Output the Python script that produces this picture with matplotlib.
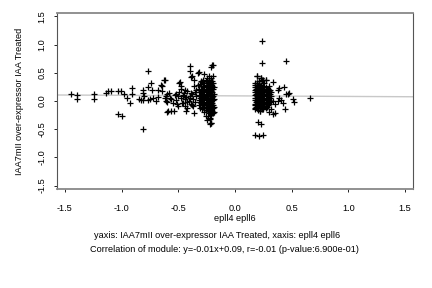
import matplotlib

matplotlib.use("Agg")
import matplotlib.pyplot as plt
import numpy as np

plt.rcParams["font.family"] = ["Liberation Sans", "DejaVu Sans"]

# sparse points, left side
left_sparse_x = [-1.45, -1.39, -1.39, -1.24, -1.24, -1.14, -1.12, -1.09, -1.03, -1.01,
                 -0.98, -0.95, -0.925, -0.91, -0.91, -1.03, -1.00, -0.845, -0.83, -0.815,
                 -0.81, -0.80, -0.81, -0.77, -0.77, -0.77, -0.74, -0.75, -0.73, -0.72,
                 -0.70, -0.68, -0.675, -0.65, -0.63, -0.64, -0.62, -0.61, -0.60, -0.60, -0.815]
left_sparse_y = [0.115, 0.10, 0.03, 0.13, 0.03, 0.145, 0.18, 0.17, 0.185, 0.185,
                 0.13, 0.06, -0.03, 0.23, 0.115, -0.24, -0.275, 0.04, 0.015, 0.20,
                 0.145, 0.085, 0.01, 0.53, 0.245, 0.01, 0.32, 0.04, 0.19, 0.055,
                 0.0, 0.20, 0.075, 0.29, 0.38, 0.175, 0.055, 0.0, 0.115, -0.19, -0.505]

# middle band, -0.65 .. -0.33
left_mid_x = [-0.58, -0.61, -0.60, -0.565, -0.55, -0.595, -0.565, -0.54, -0.505, -0.46,
              -0.43, -0.42, -0.37, -0.36, -0.45, -0.42, -0.36, -0.345, -0.33, -0.30,
              -0.49, -0.475, -0.485, -0.475, -0.62, -0.64, -0.44, -0.40, -0.40, -0.38,
              -0.39, -0.365, -0.57, -0.53, -0.52, -0.50, -0.48, -0.47, -0.455, -0.44,
              -0.43, -0.41, -0.40, -0.39, -0.38, -0.37, -0.355, -0.35, -0.34, -0.52,
              -0.51, -0.49, -0.46, -0.44, -0.42, -0.395, -0.385, -0.375,
              -0.33, -0.27, -0.23, -0.205, -0.21, -0.32, -0.195]
left_mid_y = [0.145, 0.085, -0.015, 0.04, -0.03, -0.18, -0.18, -0.18, -0.09, -0.03,
              -0.18, -0.13, -0.09, -0.21, 0.145, 0.175, 0.26, 0.20, 0.29, 0.35,
              0.32, 0.215, 0.34, 0.26, 0.38, 0.26, -0.09, 0.62, 0.53, 0.44,
              0.43, 0.38, 0.06, 0.10, 0.02, 0.08, 0.05, -0.04, 0.11, 0.03,
              0.07, 0.00, 0.09, -0.05, 0.12, 0.04, 0.15, -0.02, 0.08, 0.13,
              -0.06, 0.16, 0.09, 0.19, -0.01, 0.06, 0.14, -0.07,
              0.50, 0.48, 0.45, 0.63, 0.60, 0.51, 0.635]

# dense cluster near x = -0.25
left_dense_x = [-0.32, -0.32, -0.32, -0.32,
                -0.31, -0.31, -0.31, -0.31, -0.31,
                -0.30, -0.30, -0.30, -0.30,
                -0.29, -0.29, -0.29, -0.29, -0.29, -0.29,
                -0.28, -0.28, -0.28, -0.28, -0.28, -0.28,
                -0.27, -0.27, -0.27, -0.27, -0.27, -0.27, -0.27,
                -0.26, -0.26, -0.26, -0.26, -0.26, -0.26, -0.26,
                -0.25, -0.25, -0.25, -0.25, -0.25, -0.25, -0.25,
                -0.24, -0.24, -0.24, -0.24, -0.24, -0.24, -0.24, -0.24,
                -0.23, -0.23, -0.23, -0.23, -0.23, -0.23, -0.23, -0.23,
                -0.22, -0.22, -0.22, -0.22, -0.22, -0.22, -0.22, -0.22,
                -0.21, -0.21, -0.21, -0.21, -0.21, -0.21, -0.21, -0.21, -0.21,
                -0.20, -0.20, -0.20, -0.20, -0.20, -0.20, -0.20, -0.20,
                -0.19, -0.19, -0.19, -0.19, -0.19, -0.19, -0.19, -0.19,
                -0.185, -0.185, -0.185, -0.185, -0.185,
                -0.255, -0.225, -0.245, -0.215, -0.225]
left_dense_y = [0.22, 0.10, 0.02, -0.08,
                0.30, 0.15, 0.05, -0.02, -0.12,
                0.18, 0.08, -0.04, 0.26,
                0.33, 0.21, 0.12, 0.03, -0.06, -0.14,
                0.27, 0.16, 0.07, -0.01, -0.10, 0.38,
                0.31, 0.22, 0.13, 0.05, -0.03, -0.12, -0.19,
                0.35, 0.24, 0.17, 0.09, 0.01, -0.07, -0.16,
                0.29, 0.20, 0.11, 0.04, -0.05, -0.11, 0.40,
                0.34, 0.25, 0.15, 0.08, -0.02, -0.09, -0.18, -0.27,
                0.30, 0.19, 0.12, 0.02, -0.06, -0.14, 0.37, -0.22,
                0.33, 0.23, 0.14, 0.06, -0.03, -0.12, -0.20, -0.30,
                0.28, 0.18, 0.10, 0.00, -0.08, -0.15, 0.41, -0.385, -0.25,
                0.36, 0.26, 0.16, 0.07, -0.04, -0.11, -0.21, -0.17,
                0.31, 0.21, 0.09, 0.01, -0.07, -0.13, 0.44, -0.21,
                0.24, 0.12, 0.03, -0.10, -0.19,
                -0.27, -0.315, -0.33, -0.385, -0.40]

# dense cluster near x = 0.23
right_dense_x = [0.175, 0.175, 0.175, 0.175, 0.175, 0.175,
                 0.18, 0.18, 0.18, 0.18, 0.18, 0.18,
                 0.185, 0.185, 0.185, 0.185, 0.185,
                 0.19, 0.19, 0.19, 0.19, 0.19, 0.19, 0.19, 0.19,
                 0.20, 0.20, 0.20, 0.20, 0.20, 0.20, 0.20,
                 0.21, 0.21, 0.21, 0.21, 0.21, 0.21, 0.21,
                 0.22, 0.22, 0.22, 0.22, 0.22, 0.22, 0.22,
                 0.23, 0.23, 0.23, 0.23, 0.23, 0.23, 0.23,
                 0.24, 0.24, 0.24, 0.24, 0.24, 0.24, 0.24,
                 0.25, 0.25, 0.25, 0.25, 0.25, 0.25,
                 0.26, 0.26, 0.26, 0.26, 0.26, 0.26,
                 0.27, 0.27, 0.27, 0.27, 0.27, 0.27, 0.27,
                 0.28, 0.28, 0.28, 0.28, 0.28,
                 0.29, 0.29, 0.29, 0.29, 0.29,
                 0.30, 0.30, 0.30, 0.30, 0.30,
                 0.31, 0.31, 0.31, 0.31,
                 0.32, 0.32, 0.32]
right_dense_y = [0.25, 0.15, 0.05, -0.05, -0.12, 0.31,
                 0.28, 0.20, 0.10, 0.02, -0.08, -0.14,
                 0.22, 0.13, 0.06, -0.02, -0.10,
                 0.32, 0.24, 0.17, 0.08, 0.00, -0.06, -0.13, 0.44,
                 0.27, 0.19, 0.11, 0.04, -0.04, -0.11, -0.16,
                 0.30, 0.21, 0.14, 0.07, -0.01, -0.09, 0.35,
                 0.25, 0.16, 0.09, 0.02, -0.06, -0.13, -0.18,
                 0.29, 0.20, 0.12, 0.05, -0.03, -0.10, 0.41,
                 0.23, 0.15, 0.08, 0.00, -0.07, -0.15, 0.38,
                 0.27, 0.18, 0.10, 0.03, -0.05, -0.12,
                 0.21, 0.13, 0.06, -0.02, -0.09, 0.31,
                 0.24, 0.16, 0.08, 0.01, -0.06, -0.13, 0.37,
                 0.19, 0.11, 0.04, -0.03, -0.10,
                 0.22, 0.14, 0.06, -0.01, -0.08,
                 0.17, 0.09, 0.02, -0.05, 0.26,
                 0.12, 0.05, -0.02, 0.20,
                 0.08, 0.15, 0.00]

# sparse points, right side
right_sparse_x = [0.237, 0.237, 0.45, 0.19, 0.23, 0.246, 0.276, 0.335, 0.19, 0.21,
                  0.39, 0.38, 0.43, 0.48, 0.47, 0.45, 0.51, 0.52, 0.66, 0.39,
                  0.41, 0.38, 0.42, 0.44, 0.335, 0.35, 0.315, 0.30, 0.335, 0.35,
                  0.246, 0.217, 0.20, 0.23, 0.18, 0.21, 0.246]
right_sparse_y = [1.07, 0.68, 0.70, 0.44, 0.41, 0.38, 0.37, 0.33, 0.32, 0.35,
                  0.23, 0.20, 0.25, 0.145, 0.13, 0.115, 0.027, -0.015, 0.044, 0.055,
                  0.015, -0.003, -0.045, -0.15, 0.0, -0.06, -0.15, -0.20, -0.24, -0.22,
                  -0.15, -0.18, -0.375, -0.415, -0.61, -0.62, -0.61]

slope, intercept = -0.01, 0.09
xlim = (-1.57, 1.57)
ylim = (-1.56, 1.56)
ticks = [-1.5, -1.0, -0.5, 0.0, 0.5, 1.0, 1.5]

xs = np.concatenate([left_sparse_x, left_mid_x, left_dense_x, right_dense_x, right_sparse_x])
ys = np.concatenate([left_sparse_y, left_mid_y, left_dense_y, right_dense_y, right_sparse_y])

fig = plt.figure(figsize=(4.32, 2.88), dpi=100)
ax = fig.add_axes([0.132, 0.344, 0.824, 0.611])

lx = np.array(xlim)
ax.plot(lx, slope * lx + intercept, color="#c8c8c8", lw=1.0, zorder=1)
ax.plot(xs, ys, "+", color="black", ms=4.0, mew=0.9, zorder=2)

ax.set_xlim(*xlim)
ax.set_ylim(*ylim)
ax.set_xticks(ticks)
ax.set_yticks(ticks)
ax.set_xticklabels([f"{t:.1f}" for t in ticks])
ax.set_yticklabels([f"{t:.1f}" for t in ticks], rotation=90, va="center")
ax.tick_params(labelsize=6.6, length=2.5, width=0.6)
ax.tick_params(axis="x", pad=8)
ax.tick_params(axis="y", pad=5)
for side in ("left", "right"):
    ax.spines[side].set_color("#555555")
    ax.spines[side].set_linewidth(0.8)
for side in ("top", "bottom"):
    ax.spines[side].set_color("#888888")
    ax.spines[side].set_linewidth(1.3)

ax.set_xlabel("epll4 epll6", fontsize=6.6, labelpad=1)
fig.text(0.046, 0.649, "IAA7mII over-expressor IAA Treated", rotation=90,
         ha="center", va="center", fontsize=6.6)
fig.text(0.502, 0.181, "yaxis: IAA7mII over-expressor IAA Treated, xaxis: epll4 epll6",
         ha="center", va="center", fontsize=6.6)
fig.text(0.519, 0.132, "Correlation of module: y=-0.01x+0.09, r=-0.01 (p-value:6.900e-01)",
         ha="center", va="center", fontsize=6.6)

fig.savefig("out.png", dpi=100)
